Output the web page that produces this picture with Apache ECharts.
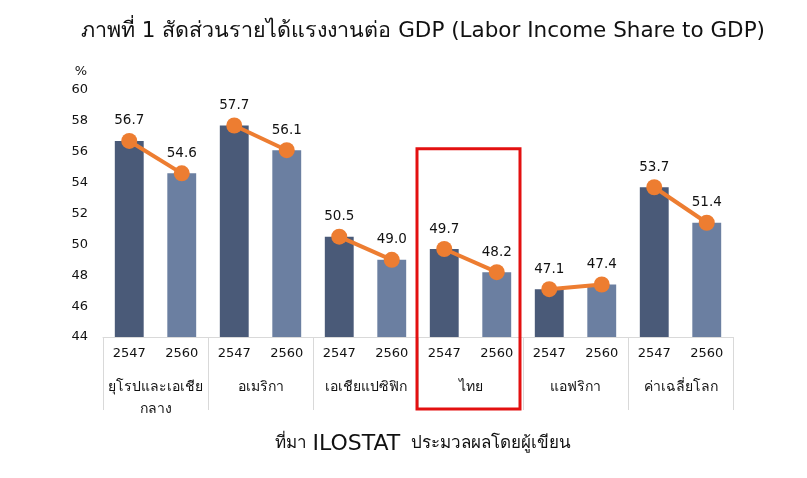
<!DOCTYPE html>
<html>
<head>
<meta charset="utf-8">
<script src="https://cdn.jsdelivr.net/npm/echarts@6/dist/echarts.min.js"></script>
<style>
  html, body { margin: 0; padding: 0; background: #fff; }
  #chart { width: 807px; height: 478px; }
</style>
</head>
<body>
<div id="chart"></div>
<script>
// Regions and the two survey years
const groups = ['ยุโรปและเอเชีย\nกลาง', 'อเมริกา', 'เอเชียแปซิฟิก', 'ไทย', 'แอฟริกา', 'ค่าเฉลี่ยโลก'];
const years = ['2547', '2560'];
// Labor income share of GDP (%)
const share2547 = [56.7, 57.7, 50.5, 49.7, 47.1, 53.7];
const share2560 = [54.6, 56.1, 49.0, 48.2, 47.4, 51.4];
// Y axis range
const yMin = 44, yMax = 60, yStep = 2;
const highlightGroup = 'ไทย';

const FONT = "'DejaVu Sans', 'Noto Sans', sans-serif";
const COLOR_OLD = '#4a5a78';
const COLOR_NEW = '#6b7fa1';
const ORANGE = '#ed7d31';

// one category per (group, year) pair
const yearCats = [];
const barData = [];
groups.forEach((g, i) => {
  yearCats.push(years[0], years[1]);
  barData.push({ value: share2547[i], itemStyle: { color: COLOR_OLD } });
  barData.push({ value: share2560[i], itemStyle: { color: COLOR_NEW } });
});

// a separate line per region so the segments do not join across groups
const lineSeries = groups.map((g, i) => {
  const d = yearCats.map(() => '-');
  d[2 * i] = share2547[i];
  d[2 * i + 1] = share2560[i];
  return {
    type: 'line',
    data: d,
    symbol: 'circle',
    symbolSize: 16,
    itemStyle: { color: ORANGE },
    lineStyle: { color: ORANGE, width: 4 },
    label: {
      show: true, position: 'top', distance: 5,
      formatter: p => p.value.toFixed(1),
      fontFamily: FONT, fontSize: 13.5, color: '#111'
    },
    z: 5
  };
});

const chart = echarts.init(document.getElementById('chart'));
chart.setOption({
  animation: false,
  backgroundColor: '#fff',
  textStyle: { fontFamily: FONT },
  title: [{
    text: 'ภาพที่ 1 สัดส่วนรายได้แรงงานต่อ GDP (Labor Income Share to GDP)',
    left: 418, top: 15, textAlign: 'center',
    textStyle: { fontFamily: FONT, fontSize: 21.5, fontWeight: 'normal', color: '#111' }
  }, {
    text: '{th|ที่มา }{en|ILOSTAT}{th|  ประมวลผลโดยผู้เขียน}',
    left: 418, top: 428, textAlign: 'center',
    textStyle: {
      fontWeight: 'normal',
      rich: {
        th: { fontFamily: FONT, fontSize: 17, fontWeight: 'normal', color: '#111' },
        en: { fontFamily: FONT, fontSize: 22, fontWeight: 'normal', color: '#111' }
      }
    }
  }],
  grid: { left: 103, right: 74, top: 90, bottom: 141 },
  xAxis: [{
    type: 'category',
    data: yearCats,
    position: 'bottom',
    axisLine: { show: true, lineStyle: { color: '#d9d9d9', width: 1 } },
    axisTick: { show: false },
    axisLabel: { margin: 10, fontFamily: FONT, fontSize: 13, color: '#111', interval: 0 }
  }, {
    type: 'category',
    data: groups,
    position: 'bottom',
    axisLine: { show: false },
    axisTick: { show: true, length: 73, interval: 0, lineStyle: { color: '#d9d9d9', width: 1 } },
    axisLabel: { margin: 39, fontFamily: FONT, fontSize: 14, color: '#111', interval: 0, lineHeight: 22 }
  }],
  yAxis: {
    type: 'value',
    min: yMin, max: yMax, interval: yStep,
    name: '%',
    nameGap: 12,
    nameTextStyle: { fontFamily: FONT, fontSize: 13, color: '#111', align: 'right', padding: [0, 16, 0, 0] },
    axisLine: { show: false },
    axisTick: { show: false },
    splitLine: { show: false },
    axisLabel: { margin: 15, fontFamily: FONT, fontSize: 13, color: '#111' }
  },
  series: [{
    type: 'bar',
    data: barData,
    barWidth: '55%',
    z: 2
  }].concat(lineSeries)
});

// red frame around the highlighted region, placed from the axis scales
const gi = groups.indexOf(highlightGroup);
const cx = chart.convertToPixel({ xAxisIndex: 1 }, gi);
const x0 = chart.convertToPixel({ xAxisIndex: 1 }, 0);
const x1 = chart.convertToPixel({ xAxisIndex: 1 }, 1);
const band = x1 - x0;
const yTop = chart.convertToPixel({ yAxisIndex: 0 }, 56.2);
const yBase = chart.convertToPixel({ yAxisIndex: 0 }, yMin);
chart.setOption({
  graphic: [{
    type: 'rect',
    shape: { x: cx - band / 2 - 1, y: yTop, width: band - 2, height: yBase + 72 - yTop },
    style: { fill: 'none', stroke: '#e31010', lineWidth: 3 },
    z: 10
  }]
});
</script>
</body>
</html>
